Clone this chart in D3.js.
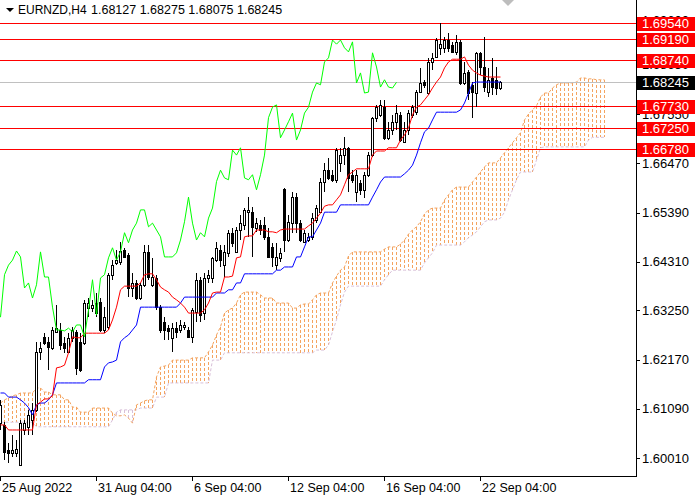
<!DOCTYPE html>
<html>
<head>
<meta charset="utf-8">
<script src="https://cdn.jsdelivr.net/npm/d3@7"></script>
<style>
  body { margin: 0; background: #fff; }
  svg { display: block; }
  text { font-family: "Liberation Sans", Arial, sans-serif; }
</style>
</head>
<body>
<div id="chart"></div>
<script>
var symbol = "EURNZD,H4";

// H4 candles, bar 0 = 25 Aug 2022
var open = [
  1.6078,1.6074,1.6019,1.6013,1.6013,1.5986,1.6063,1.6070,1.6085,1.6107,
  1.6234,1.6267,1.6256,1.6243,1.6278,1.6282,1.6254,1.6234,1.6265,1.6278,
  1.6256,1.6254,1.6330,1.6330,1.6341,1.6343,1.6282,1.6289,1.6403,1.6429,
  1.6431,1.6457,1.6446,1.6374,1.6385,1.6352,1.6381,1.6453,1.6381,1.6396,
  1.6332,1.6300,1.6286,1.6265,1.6286,1.6282,1.6289,1.6282,1.6267,1.6321,
  1.6392,1.6319,1.6396,1.6396,1.6435,1.6457,1.6424,1.6451,1.6494,1.6453,
  1.6501,1.6512,1.6540,1.6540,1.6505,1.6512,1.6512,1.6486,1.6464,1.6424,
  1.6440,1.6591,1.6479,1.6516,1.6573,1.6516,1.6475,1.6479,1.6486,1.6523,
  1.6540,1.6607,1.6632,1.6622,1.6611,1.6648,1.6665,1.6681,1.6622,1.6584,
  1.6604,1.6589,1.6622,1.6665,1.6746,1.6753,1.6770,1.6703,1.6720,1.6738,
  1.6753,1.6694,1.6720,1.6753,1.6759,1.6803,1.6825,1.6801,1.6869,1.6880,
  1.6900,1.6900,1.6917,1.6906,1.6891,1.6913,1.6823,1.6847,1.6819,1.6801,
  1.6889,1.6858,1.6803,1.6834,1.6830,1.68127];
var high = [
  1.6129,1.6080,1.6035,1.6052,1.6041,1.6085,1.6085,1.6107,1.6122,1.6256,
  1.6256,1.6275,1.6267,1.6289,1.6337,1.6297,1.6267,1.6275,1.6289,1.6282,
  1.6275,1.6348,1.6352,1.6348,1.6363,1.6352,1.6332,1.6407,1.6435,1.6457,
  1.6474,1.6462,1.6451,1.6407,1.6392,1.6385,1.6468,1.6468,1.6440,1.6403,
  1.6337,1.6310,1.6293,1.6297,1.6300,1.6304,1.6300,1.6289,1.6330,1.6407,
  1.6398,1.6407,1.6413,1.6442,1.6475,1.6468,1.6468,1.6501,1.6505,1.6508,
  1.6534,1.6549,1.6573,1.6551,1.6527,1.6523,1.6529,1.6505,1.6473,1.6473,
  1.6462,1.6593,1.6534,1.6584,1.6582,1.6523,1.6501,1.6495,1.6538,1.6556,
  1.6615,1.6648,1.6659,1.6632,1.6681,1.6681,1.6705,1.6683,1.6632,1.6632,
  1.6611,1.6628,1.6672,1.6749,1.6775,1.6786,1.6786,1.6738,1.6753,1.6775,
  1.6759,1.6738,1.6764,1.6775,1.6808,1.6856,1.6830,1.6878,1.6889,1.6922,
  1.6954,1.6924,1.6932,1.6913,1.6928,1.6917,1.6869,1.6851,1.6825,1.6891,
  1.6891,1.6924,1.6856,1.6878,1.6858,1.68275];
var low = [
  1.6063,1.5997,1.5991,1.6004,1.6004,1.5984,1.6052,1.6052,1.6052,1.6102,
  1.6216,1.6249,1.6194,1.6238,1.6275,1.6238,1.6232,1.6232,1.6256,1.6184,
  1.6190,1.6249,1.6310,1.6321,1.6310,1.6278,1.6275,1.6282,1.6392,1.6424,
  1.6424,1.6440,1.6354,1.6354,1.6348,1.6348,1.6376,1.6392,1.6376,1.6326,
  1.6275,1.6260,1.6260,1.6234,1.6265,1.6275,1.6282,1.6265,1.6254,1.6300,
  1.6300,1.6304,1.6385,1.6385,1.6431,1.6420,1.6398,1.6442,1.6464,1.6451,
  1.6479,1.6501,1.6486,1.6442,1.6496,1.6490,1.6479,1.6440,1.6420,1.6413,
  1.6431,1.6453,1.6475,1.6495,1.6495,1.6475,1.6473,1.6475,1.6479,1.6516,
  1.6538,1.6584,1.6611,1.6606,1.6604,1.6628,1.6643,1.6584,1.6604,1.6562,
  1.6578,1.6571,1.6617,1.6661,1.6738,1.6749,1.6698,1.6698,1.6709,1.6720,
  1.6694,1.6692,1.6709,1.6746,1.6753,1.6801,1.6812,1.6797,1.6851,1.6878,
  1.6884,1.6889,1.6891,1.6889,1.6884,1.6819,1.6819,1.6786,1.6746,1.6770,
  1.6840,1.6803,1.6792,1.6797,1.6797,1.68075];
var close = [
  1.6118,1.6015,1.6013,1.6019,1.6021,1.6078,1.6078,1.6096,1.6107,1.6234,
  1.6243,1.6254,1.6245,1.6282,1.6286,1.6249,1.6243,1.6265,1.6282,1.6199,
  1.6194,1.6341,1.6341,1.6337,1.6319,1.6282,1.6310,1.6403,1.6424,1.6435,
  1.6455,1.6442,1.6374,1.6385,1.6352,1.6381,1.6453,1.6398,1.6398,1.6332,
  1.6282,1.6282,1.6280,1.6286,1.6278,1.6293,1.6293,1.6267,1.6326,1.6392,
  1.6315,1.6396,1.6403,1.6440,1.6462,1.6435,1.6453,1.6495,1.6473,1.6501,
  1.6516,1.6545,1.6545,1.6508,1.6516,1.6501,1.6486,1.6442,1.6442,1.6442,
  1.6451,1.6479,1.6519,1.6573,1.6516,1.6479,1.6495,1.6486,1.6527,1.6549,
  1.6607,1.6632,1.6615,1.6611,1.6676,1.6665,1.6681,1.6615,1.6611,1.6622,
  1.6589,1.6622,1.6665,1.6747,1.6770,1.6775,1.6703,1.6720,1.6738,1.6757,
  1.6698,1.6720,1.6757,1.6770,1.6803,1.6823,1.6819,1.6869,1.6878,1.6917,
  1.6908,1.6917,1.6900,1.6891,1.6913,1.6823,1.6845,1.6801,1.6803,1.6889,
  1.6858,1.6814,1.6830,1.6814,1.6812,1.68245];

// Ichimoku lines
var tenkan = [
  1.6074,1.6074,1.6063,1.6063,1.6063,1.6063,1.6063,1.6063,1.6063,1.6118,
  1.6124,1.6131,1.6131,1.6138,1.6199,1.6201,1.6205,1.6232,1.6267,1.6265,
  1.6265,1.6275,1.6275,1.6275,1.6275,1.6275,1.6275,1.6282,1.6304,1.6332,
  1.6370,1.6378,1.6378,1.6378,1.6378,1.6385,1.6403,1.6405,1.6405,1.6392,
  1.6376,1.6370,1.6365,1.6354,1.6348,1.6341,1.6332,1.6319,1.6319,1.6319,
  1.6319,1.6326,1.6341,1.6363,1.6365,1.6365,1.6398,1.6398,1.6400,1.6440,
  1.6442,1.6486,1.6488,1.6488,1.6501,1.6501,1.6501,1.6497,1.6497,1.6495,
  1.6501,1.6503,1.6503,1.6503,1.6503,1.6503,1.6503,1.6510,1.6516,1.6527,
  1.6538,1.6553,1.6556,1.6556,1.6567,1.6578,1.6600,1.6622,1.6628,1.6635,
  1.6635,1.6635,1.6635,1.6665,1.6674,1.6674,1.6674,1.6681,1.6681,1.6681,
  1.6698,1.6709,1.6724,1.6753,1.6770,1.6775,1.6786,1.6797,1.6812,1.6825,
  1.6836,1.6856,1.6869,1.6875,1.6875,1.6875,1.6880,1.6862,1.6851,1.6845,
  1.6840,1.6838,1.6836,1.6836,1.6836,1.6836];
var kijun = [
  1.6144,1.6144,1.6135,1.6135,1.6135,1.6129,1.6122,1.6112,1.6096,1.6118,
  1.6122,1.6122,1.6129,1.6140,1.6166,1.6166,1.6166,1.6166,1.6166,1.6166,
  1.6166,1.6166,1.6173,1.6173,1.6173,1.6173,1.6201,1.6210,1.6212,1.6216,
  1.6256,1.6265,1.6271,1.6282,1.6293,1.6332,1.6332,1.6332,1.6332,1.6332,
  1.6332,1.6332,1.6332,1.6332,1.6332,1.6341,1.6354,1.6354,1.6354,1.6354,
  1.6354,1.6354,1.6354,1.6354,1.6363,1.6363,1.6363,1.6370,1.6370,1.6385,
  1.6385,1.6405,1.6405,1.6405,1.6405,1.6405,1.6405,1.6405,1.6405,1.6413,
  1.6413,1.6420,1.6420,1.6420,1.6442,1.6442,1.6464,1.6486,1.6486,1.6501,
  1.6516,1.6540,1.6540,1.6540,1.6540,1.6556,1.6556,1.6556,1.6556,1.6556,
  1.6556,1.6556,1.6556,1.6573,1.6589,1.6606,1.6617,1.6617,1.6617,1.6617,
  1.6617,1.6624,1.6632,1.6643,1.6665,1.6692,1.6716,1.6724,1.6742,1.6759,
  1.6759,1.6759,1.6759,1.6759,1.6759,1.6764,1.6779,1.6801,1.6823,1.6825,
  1.6825,1.6825,1.6825,1.6825,1.6825,1.6825];
// cloud runs 26 bars past the last candle
var senkouA = [
  1.6122,1.6129,1.6133,1.6138,1.6140,1.6144,1.6144,1.6144,1.6144,1.6155,
  1.6155,1.6146,1.6146,1.6140,1.6140,1.6140,1.6129,1.6129,1.6113,1.6113,
  1.6102,1.6102,1.6102,1.6111,1.6111,1.6111,1.6111,1.6111,1.6100,1.6094,
  1.6094,1.6096,1.6089,1.6078,1.6118,1.6122,1.6127,1.6129,1.6129,1.6179,
  1.6201,1.6203,1.6205,1.6216,1.6216,1.6216,1.6216,1.6216,1.6221,1.6221,
  1.6221,1.6221,1.6234,1.6249,1.6271,1.6289,1.6319,1.6326,1.6330,1.6341,
  1.6359,1.6365,1.6365,1.6365,1.6365,1.6359,1.6352,1.6352,1.6352,1.6341,
  1.6341,1.6341,1.6341,1.6330,1.6330,1.6337,1.6339,1.6339,1.6348,1.6359,
  1.6363,1.6363,1.6363,1.6385,1.6400,1.6413,1.6420,1.6444,1.6453,1.6453,
  1.6453,1.6453,1.6453,1.6453,1.6453,1.6453,1.6459,1.6464,1.6464,1.6464,
  1.6470,1.6479,1.6492,1.6501,1.6508,1.6519,1.6536,1.6545,1.6549,1.6549,
  1.6549,1.6567,1.6578,1.6589,1.6595,1.6595,1.6595,1.6595,1.6606,1.6617,
  1.6628,1.6639,1.6648,1.6648,1.6648,1.6659,1.6670,1.6681,1.6692,1.6703,
  1.6714,1.6742,1.6755,1.6764,1.6773,1.6792,1.6801,1.6801,1.6812,1.6819,
  1.6823,1.6823,1.6823,1.6823,1.6825,1.6834,1.6834,1.6832,1.6832,1.6830,
  1.6830,1.6830];
var senkouB = [
  1.6080,1.6080,1.6080,1.6080,1.6080,1.6080,1.6080,1.6080,1.6080,1.6070,
  1.6070,1.6070,1.6070,1.6070,1.6070,1.6070,1.6070,1.6070,1.6070,1.6070,
  1.6070,1.6070,1.6070,1.6070,1.6070,1.6070,1.6070,1.6070,1.6085,1.6102,
  1.6107,1.6107,1.6107,1.6107,1.6107,1.6111,1.6111,1.6111,1.6111,1.6135,
  1.6135,1.6135,1.6166,1.6166,1.6166,1.6166,1.6166,1.6166,1.6166,1.6166,
  1.6166,1.6166,1.6166,1.6216,1.6216,1.6216,1.6232,1.6232,1.6232,1.6232,
  1.6232,1.6232,1.6232,1.6232,1.6232,1.6232,1.6232,1.6232,1.6232,1.6232,
  1.6232,1.6232,1.6232,1.6232,1.6232,1.6232,1.6232,1.6232,1.6232,1.6238,
  1.6238,1.6238,1.6249,1.6278,1.6304,1.6337,1.6365,1.6378,1.6378,1.6378,
  1.6378,1.6378,1.6378,1.6378,1.6378,1.6378,1.6392,1.6403,1.6413,1.6413,
  1.6413,1.6413,1.6413,1.6413,1.6413,1.6413,1.6429,1.6440,1.6451,1.6468,
  1.6468,1.6468,1.6468,1.6468,1.6468,1.6468,1.6475,1.6484,1.6490,1.6497,
  1.6508,1.6519,1.6523,1.6523,1.6523,1.6527,1.6540,1.6567,1.6589,1.6611,
  1.6628,1.6628,1.6628,1.6628,1.6654,1.6681,1.6683,1.6683,1.6683,1.6683,
  1.6683,1.6683,1.6683,1.6683,1.6683,1.6683,1.6683,1.6698,1.6704,1.6704,
  1.6704,1.6704];
var chikouShift = 26;

var levels = [1.69540, 1.69190, 1.68740, 1.67730, 1.67250, 1.66780];
var bid = 1.68245;
var priceTicks = [1.69600, 1.68630, 1.67550, 1.66470, 1.65390, 1.64310, 1.63250, 1.62170, 1.61090, 1.60010];
var timeTicks = [0, 24, 48, 72, 96, 120];
var timeLabels = ["25 Aug 2022", "31 Aug 04:00", "6 Sep 04:00", "12 Sep 04:00", "16 Sep 04:00", "22 Sep 04:00"];

var width = 700,
    height = 500,
    plotW = 636,
    plotH = 476;

var x = d3.scaleLinear().domain([0, 159]).range([0.5, 636.5]);
var y = d3.scaleLinear().domain([1.59611, 1.70047]).range([476.5, 0]);

function py(v) { return Math.round(y(v)) + 0.5; }

var svg = d3.select("#chart").append("svg")
    .attr("width", width)
    .attr("height", height);

svg.append("rect").attr("width", width).attr("height", height).style("fill", "white");

svg.append("clipPath").attr("id", "plot")
  .append("rect").attr("width", plotW).attr("height", plotH);

var plot = svg.append("g").attr("clip-path", "url(#plot)");

// cloud hatch, one dashed column per bar
senkouA.forEach(function(a, i) {
    var b = senkouB[i];
    plot.append("line")
        .attr("x1", x(i)).attr("x2", x(i))
        .attr("y1", y(Math.max(a, b))).attr("y2", y(Math.min(a, b)))
        .style("stroke", a >= b ? "#F4A460" : "#D8BFD8")
        .style("stroke-dasharray", "3,2")
        .style("shape-rendering", "crispEdges");
});

var line = d3.line()
    .x(function(d, i) { return x(i); })
    .y(function(d) { return y(d); });

plot.append("path").datum(senkouB).attr("d", line)
    .style("fill", "none").style("stroke", "#D8BFD8").style("stroke-dasharray", "3,2");
plot.append("path").datum(senkouA).attr("d", line)
    .style("fill", "none").style("stroke", "#F4A460").style("stroke-dasharray", "3,2");

// level lines and bid line
plot.append("line")
    .attr("x1", 0).attr("x2", plotW)
    .attr("y1", py(bid)).attr("y2", py(bid))
    .style("stroke", "#C0C0C0");

levels.forEach(function(v) {
    plot.append("line")
        .attr("x1", 0).attr("x2", plotW)
        .attr("y1", py(v)).attr("y2", py(v))
        .style("stroke", "#FF0000");
});

// candles
var candles = plot.append("g").style("shape-rendering", "crispEdges");
open.forEach(function(o, i) {
    var c = close[i];
    candles.append("line")
        .attr("x1", x(i)).attr("x2", x(i))
        .attr("y1", y(high[i])).attr("y2", y(low[i]))
        .style("stroke", "black");
    var top = Math.round(y(Math.max(o, c))) + 0.5,
        bot = Math.round(y(Math.min(o, c))) + 0.5;
    candles.append("rect")
        .attr("x", x(i) - 1).attr("y", top)
        .attr("width", 2).attr("height", Math.max(bot - top, 0))
        .style("fill", c >= o ? "white" : "black")
        .style("stroke", "black");
});

// tenkan, kijun, chikou
plot.append("path").datum(kijun).attr("d", line)
    .style("fill", "none").style("stroke", "#0000FF");
plot.append("path").datum(tenkan).attr("d", line)
    .style("fill", "none").style("stroke", "#FF0000");

// chikou is the close plotted 26 bars back
var chikou = close.slice(chikouShift);
plot.append("path").datum(chikou).attr("d", line)
    .style("fill", "none").style("stroke", "#00FF00");

// axes frame
svg.append("line").attr("x1", 636.5).attr("x2", 636.5).attr("y1", 0).attr("y2", 477)
    .style("stroke", "black");
svg.append("line").attr("x1", 0).attr("x2", 637).attr("y1", 476.5).attr("y2", 476.5)
    .style("stroke", "black");

priceTicks.forEach(function(t) {
    svg.append("line")
        .attr("x1", 636).attr("x2", 640)
        .attr("y1", py(t)).attr("y2", py(t))
        .style("stroke", "black");
    svg.append("text")
        .attr("x", 642).attr("y", y(t) + 4.5)
        .style("font-size", "13px")
        .text(t.toFixed(5));
});

timeTicks.forEach(function(t, k) {
    svg.append("line")
        .attr("x1", x(t)).attr("x2", x(t))
        .attr("y1", 477).attr("y2", 481)
        .style("stroke", "black");
    svg.append("text")
        .attr("x", x(t) + 1.5).attr("y", 492)
        .style("font-size", "12.5px")
        .text(timeLabels[k]);
});

// price labels on the axis
function priceLabel(v, fill) {
    svg.append("rect")
        .attr("x", 637).attr("y", Math.round(y(v)) - 6)
        .attr("width", 58).attr("height", 14)
        .style("fill", fill);
    svg.append("text")
        .attr("x", 642).attr("y", y(v) + 5)
        .style("font-size", "13px")
        .style("fill", "white")
        .text(v.toFixed(5));
}
levels.forEach(function(v) { priceLabel(v, "#FF0000"); });
priceLabel(bid, "black");

// title
svg.append("path").attr("d", "M6,8L14,8L10,12Z").style("fill", "black");
svg.append("text").attr("x", 18).attr("y", 14).style("font-size", "12px").text(symbol);
svg.append("text").attr("x", 91).attr("y", 14).style("font-size", "12.5px")
    .text([open[open.length - 1], high[high.length - 1], low[low.length - 1], close[close.length - 1]]
        .map(function(v) { return v.toFixed(5); }).join(" "));

// chart shift marker
svg.append("path").attr("d", "M502,0L514,0L508,6Z").style("fill", "#BDBDBD");
</script>
</body>
</html>
